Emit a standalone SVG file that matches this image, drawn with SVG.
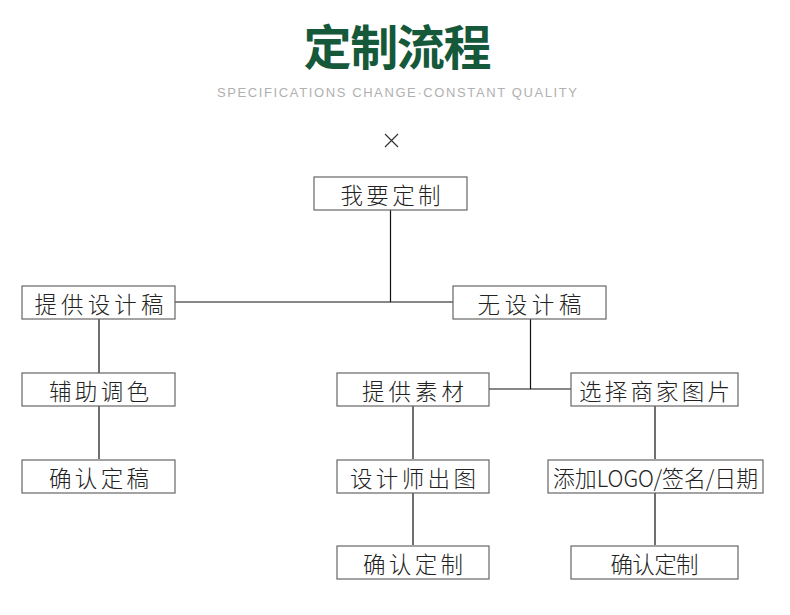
<svg xmlns="http://www.w3.org/2000/svg" width="790" height="615" viewBox="0 0 790 615">
<style>
.box{fill:#fff;stroke:#666;stroke-width:1.2}
.t{font-family:"Noto Sans CJK SC","Noto Sans",sans-serif;font-size:22.5px;font-weight:300;fill:#222;text-anchor:middle;dominant-baseline:central}
.c{stroke:#111;stroke-width:1.2;fill:none}
</style>
<rect width="790" height="615" fill="#fff"/>
<text x="397.5" y="65" font-family="'Noto Sans CJK SC',sans-serif" font-size="48" font-weight="700" fill="#15583a" text-anchor="middle" textLength="188" lengthAdjust="spacing">定制流程</text>
<text x="397" y="97" font-family="'Liberation Sans',sans-serif" font-size="13" fill="#b0b0b0" text-anchor="middle" textLength="360" lengthAdjust="spacing">SPECIFICATIONS CHANGE·CONSTANT QUALITY</text>
<path d="M385 134L398 147M398 134L385 147" stroke="#333" stroke-width="1.2"/>
<g id="connectors">
<path class="c" d="M390.5 210V302M175 302H453"/>
<path class="c" d="M99 319V373M99 406V459"/>
<path class="c" d="M530.5 319V389M489 389H571"/>
<path class="c" d="M413 406V459M413 493V545"/>
<path class="c" d="M655 406V459M655 493V545"/>
</g>
<g id="n1"><rect class="box" x="314" y="177" width="153" height="33"/><text class="t" x="390.5" y="193.5" textLength="100" lengthAdjust="spacing">我要定制</text></g>
<g id="n2"><rect class="box" x="22" y="286" width="153" height="33"/><text class="t" x="99" y="302.5" textLength="129" lengthAdjust="spacing">提供设计稿</text></g>
<g id="n3"><rect class="box" x="453" y="286" width="153" height="33"/><text class="t" x="529.5" y="302.5" textLength="104" lengthAdjust="spacing">无设计稿</text></g>
<g id="n4"><rect class="box" x="22" y="373" width="153" height="33"/><text class="t" x="99" y="389.5" textLength="100" lengthAdjust="spacing">辅助调色</text></g>
<g id="n5"><rect class="box" x="22" y="460" width="153" height="33"/><text class="t" x="99" y="476.5" textLength="100" lengthAdjust="spacing">确认定稿</text></g>
<g id="n6"><rect class="box" x="337" y="373" width="152" height="33"/><text class="t" x="413" y="389.5" textLength="102" lengthAdjust="spacing">提供素材</text></g>
<g id="n7"><rect class="box" x="571" y="373" width="167" height="33"/><text class="t" x="654.5" y="389.5" textLength="151" lengthAdjust="spacing">选择商家图片</text></g>
<g id="n8"><rect class="box" x="337" y="460" width="152" height="33"/><text class="t" x="413" y="476.5" textLength="126" lengthAdjust="spacing">设计师出图</text></g>
<g id="n9"><rect class="box" x="548" y="460" width="215" height="33"/><text class="t" x="655.5" y="476.5" textLength="205" lengthAdjust="spacingAndGlyphs">添加LOGO/签名/日期</text></g>
<g id="n10"><rect class="box" x="337" y="546" width="152" height="33"/><text class="t" x="413" y="562.5" textLength="100" lengthAdjust="spacing">确认定制</text></g>
<g id="n11"><rect class="box" x="571" y="546" width="167" height="33"/><text class="t" x="654.5" y="562.5" textLength="88" lengthAdjust="spacing">确认定制</text></g>
</svg>
